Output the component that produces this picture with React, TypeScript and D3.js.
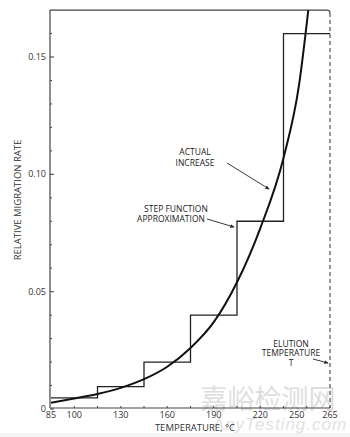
import React from "react";
import * as d3 from "d3";

// Step function approximation: [start T, end T, value]
const stepStarts = [85, 115, 145, 175, 205, 235];
const stepEnds = [115, 145, 175, 205, 235, 265];
const stepValues = [0.0047, 0.0095, 0.02, 0.04, 0.08, 0.16];

// Actual increase curve
const curveTemps = [85, 100, 115, 130, 145, 160, 175, 190, 205, 220, 235, 245, 251];
const curveValues = [0.0027, 0.0045, 0.0064, 0.009, 0.0127, 0.018, 0.026, 0.037, 0.054, 0.077, 0.107, 0.138, 0.17];

const xTickLabels = [85, 100, 130, 160, 190, 220, 250, 265];
const xMinorTicks = [100, 115, 130, 145, 160, 175, 190, 205, 220, 235, 250, 265];
const yTickLabels = [0, 0.05, 0.1, 0.15];
const yTickText = ["0", "0.05", "0.10", "0.15"];
const yMinorTicks = [0.01, 0.02, 0.03, 0.04, 0.06, 0.07, 0.08, 0.09, 0.11, 0.12, 0.13, 0.14, 0.16];

const W = 350;
const H = 437;
const FONT = "'Open Sans', 'Liberation Sans', sans-serif";

export default function App() {
  const x = d3.scaleLinear().domain([85, 265]).range([51, 330]);
  const y = d3.scaleLinear().domain([0, 0.15]).range([409, 57]);
  const yTop = y(0.17);
  const yBot = 408;

  const stepPts: [number, number][] = [];
  stepStarts.forEach((s, i) => {
    stepPts.push([x(s), y(stepValues[i])]);
    stepPts.push([x(stepEnds[i]), y(stepValues[i])]);
  });
  const stepPath = d3.line()(stepPts) || "";

  const curvePath =
    d3
      .line<number>()
      .x((_, i) => x(curveTemps[i]))
      .y((v) => y(v))
      .curve(d3.curveMonotoneX)(curveValues) || "";

  const ink = "#222";
  const axis = "#444";

  return (
    <svg
      width={W}
      height={H}
      style={{ position: "absolute", left: 0, top: 0, background: "#fff" }}
      fontFamily={FONT}
    >
      <defs>
        <marker id="ah" viewBox="0 0 6 6" refX="5" refY="3" markerWidth="5" markerHeight="5" orient="auto">
          <path d="M0,0.5 L6,3 L0,5.5 z" fill={ink} />
        </marker>
      </defs>
      <rect x={0} y={433} width={W} height={4} fill="#f3f3f3" />

      {/* watermark */}
      <text x={268} y={409} fontSize={27} fill="#dedede" textAnchor="middle" fontFamily="'Noto Sans CJK SC', sans-serif">
        嘉峪检测网
      </text>
      <text x={280} y={430} fontSize={17} fill="#e2e2e2" textAnchor="middle" fontStyle="italic" fontFamily="'Liberation Sans', sans-serif" letterSpacing={1}>
        AnyTesting.com
      </text>

      {/* frame */}
      <line x1={50} y1={yTop} x2={50} y2={yBot} stroke={axis} strokeWidth={1.2} />
      <line x1={50} y1={yBot} x2={330} y2={yBot} stroke={axis} strokeWidth={1.2} />
      <path d={`M50,${yTop} L327,${yTop} Q330,${yTop} 330,${yTop + 3}`} fill="none" stroke={axis} strokeWidth={1.2} />
      <line x1={330} y1={yTop + 3} x2={330} y2={yBot} stroke={axis} strokeWidth={1.1} strokeDasharray="4,3" />

      {/* y ticks */}
      {yTickLabels.map((v, i) => (
        <g key={"yt" + i}>
          <line x1={50} x2={54} y1={y(v)} y2={y(v)} stroke={axis} strokeWidth={1.1} />
          <text x={46} y={y(v) + 3} fontSize={9} textAnchor="end" fill="#333">
            {yTickText[i]}
          </text>
        </g>
      ))}
      {yMinorTicks.map((v, i) => (
        <line key={"ym" + i} x1={50} x2={52} y1={y(v)} y2={y(v)} stroke={axis} strokeWidth={1} />
      ))}

      {/* x ticks */}
      {xMinorTicks.map((t, i) => (
        <line key={"xm" + i} x1={x(t)} x2={x(t)} y1={yBot} y2={yBot - 2} stroke={axis} strokeWidth={1} />
      ))}
      {xTickLabels.map((t, i) => (
        <text key={"xl" + i} x={x(t)} dx={t === 250 ? -10 : 0} y={418} fontSize={9} textAnchor="middle" fill="#333">
          {t}
        </text>
      ))}

      {/* axis titles */}
      <text x={195} y={431} fontSize={9.5} textAnchor="middle" fill="#333">
        TEMPERATURE,  °C
      </text>
      <text
        transform={`translate(21,200) rotate(-90)`}
        fontSize={9.5}
        textAnchor="middle"
        fill="#333"
      >
        RELATIVE MIGRATION RATE
      </text>

      {/* data */}
      <path d={stepPath} fill="none" stroke={ink} strokeWidth={1.3} />
      <path d={curvePath} fill="none" stroke="#111" strokeWidth={2} />

      {/* annotations */}
      <g fontSize={8.5} fill="#222" textAnchor="middle">
        <text x={195} y={155}>ACTUAL</text>
        <text x={195} y={166}>INCREASE</text>
        <text x={176} y={212}>STEP FUNCTION</text>
        <text x={171} y={222}>APPROXIMATION</text>
        <text x={291} y={347}>ELUTION</text>
        <text x={291} y={356}>TEMPERATURE</text>
        <text x={291} y={366}>T</text>
      </g>
      <line x1={227} y1={163} x2={269} y2={189} stroke={ink} strokeWidth={0.9} markerEnd="url(#ah)" />
      <line x1={207} y1={219} x2={234} y2={227} stroke={ink} strokeWidth={0.9} markerEnd="url(#ah)" />
      <line x1={313} y1={359} x2={328} y2={363} stroke={ink} strokeWidth={0.9} markerEnd="url(#ah)" />
    </svg>
  );
}
